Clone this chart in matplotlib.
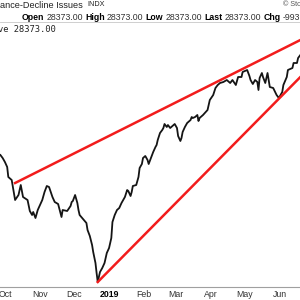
import numpy as np
import pandas as pd
import matplotlib
matplotlib.use("Agg")
import matplotlib.pyplot as plt

plt.rcParams['font.family'] = ['Liberation Sans', 'DejaVu Sans']

# NYSE advance-decline line (cumulative)
dates = ["2018-09-27", "2018-09-29", "2018-10-01", "2018-10-03", "2018-10-04", "2018-10-07",
         "2018-10-10", "2018-10-13", "2018-10-15", "2018-10-17", "2018-10-21", "2018-10-23",
         "2018-10-25", "2018-10-26", "2018-10-28", "2018-10-30", "2018-11-03", "2018-11-05",
         "2018-11-07", "2018-11-09", "2018-11-12", "2018-11-14", "2018-11-17", "2018-11-20",
         "2018-11-21", "2018-11-25", "2018-11-28", "2018-11-29", "2018-11-30", "2018-12-02",
         "2018-12-04", "2018-12-05", "2018-12-06", "2018-12-09", "2018-12-12", "2018-12-13",
         "2018-12-15", "2018-12-17", "2018-12-18", "2018-12-20", "2018-12-21", "2018-12-22",
         "2018-12-24", "2018-12-26", "2018-12-28", "2018-12-30", "2019-01-01", "2019-01-03",
         "2019-01-04", "2019-01-06", "2019-01-08", "2019-01-10", "2019-01-12", "2019-01-15",
         "2019-01-17", "2019-01-18", "2019-01-20", "2019-01-21", "2019-01-22", "2019-01-25",
         "2019-01-27", "2019-01-28", "2019-01-30", "2019-01-31", "2019-02-02", "2019-02-04",
         "2019-02-05", "2019-02-07", "2019-02-09", "2019-02-11", "2019-02-12", "2019-02-13",
         "2019-02-15", "2019-02-17", "2019-02-18", "2019-02-19", "2019-02-21", "2019-02-22",
         "2019-02-24", "2019-02-26", "2019-02-27", "2019-02-28", "2019-03-02", "2019-03-03",
         "2019-03-05", "2019-03-06", "2019-03-07", "2019-03-09", "2019-03-11", "2019-03-14",
         "2019-03-15", "2019-03-16", "2019-03-18", "2019-03-20", "2019-03-21", "2019-03-22",
         "2019-03-25", "2019-03-29", "2019-03-31", "2019-04-03", "2019-04-05", "2019-04-07",
         "2019-04-09", "2019-04-12", "2019-04-15", "2019-04-18", "2019-04-20", "2019-04-23",
         "2019-04-25", "2019-04-28", "2019-04-29", "2019-05-03", "2019-05-05", "2019-05-06",
         "2019-05-08", "2019-05-10", "2019-05-12", "2019-05-13", "2019-05-14", "2019-05-16",
         "2019-05-17", "2019-05-19", "2019-05-21", "2019-05-22", "2019-05-23", "2019-05-26",
         "2019-05-29", "2019-05-31", "2019-06-03", "2019-06-04", "2019-06-07", "2019-06-08",
         "2019-06-12", "2019-06-13", "2019-06-16", "2019-06-17", "2019-06-19"]
ad_line = [18373, 18073, 17673, 17173, 16173, 15873,
           13873, 14373, 15373, 14173, 13873, 12773,
           12373, 12673, 12073, 12873, 13873, 14673,
           15273, 15173, 14173, 13673, 13473, 12173,
           12873, 12773, 13273, 13673, 13773, 14373,
           13573, 12873, 12373, 11973, 11573, 10873,
           10273, 9373, 8673, 7573, 6573, 5673,
           6673, 7073, 7573, 8573, 9073, 10073,
           11673, 12373, 12873, 13073, 13573, 14173,
           14873, 14773, 14273, 14673, 15273, 15373,
           16173, 17073, 17473, 18073, 18273, 17873,
           17473, 18073, 18673, 19173, 19373, 19873,
           20573, 20873, 21073, 21473, 21173, 21373,
           21073, 21273, 21373, 21473, 21073, 20273,
           19773, 20073, 20673, 21173, 21573, 21873,
           22173, 22073, 22173, 22373, 21773, 22073,
           22373, 22873, 23873, 24373, 25073, 25373,
           25573, 25673, 25873, 25573, 25873, 25373,
           26173, 26173, 26673, 26873, 26273, 25873,
           25473, 25873, 25673, 24873, 26073, 26573,
           26173, 25573, 26573, 25873, 25173, 25073,
           24373, 24073, 24673, 25373, 26173, 26873,
           27073, 27573, 27573, 28073, 28373]

# trend lines (start / end)
upper_dates = ["2018-10-10", "2019-06-28"]
upper_vals = [15573, 30384]
lower_dates = ["2018-12-22", "2019-06-28"]
lower_vals = [5673, 27204]

month_ticks = ["2018-10-01", "2018-11-01", "2018-12-01", "2019-01-01", "2019-02-01",
               "2019-03-01", "2019-04-01", "2019-05-01", "2019-06-01"]
month_labels = ["Oct", "Nov", "Dec", "2019", "Feb", "Mar", "Apr", "May", "Jun"]

quote_labels = ["Open", "High", "Low", "Last", "Chg"]
quote_values = ["28373.00", "28373.00", "28373.00", "28373.00", "-993"]

fig = plt.figure(figsize=(3, 3), dpi=100)
ax = fig.add_axes([0, 13 / 300, 1, 265 / 300])

x = pd.to_datetime(dates)
ax.plot(x, ad_line, color='#151515', lw=1.3, zorder=2)
ax.plot(pd.to_datetime(upper_dates), upper_vals, color='#f21c1c', lw=1.8, zorder=3)
ax.plot(pd.to_datetime(lower_dates), lower_vals, color='#f21c1c', lw=1.8, zorder=3)

t0 = pd.Timestamp("2018-10-01")
ax.set_xlim(t0 + pd.Timedelta(days=-4.34), t0 + pd.Timedelta(days=260.68))
ax.set_ylim(5173, 31673)

ax.set_xticks(pd.to_datetime(month_ticks))
ax.set_xticklabels(month_labels, fontsize=6.3, color='#333333')
ax.get_xticklabels()[3].set_fontweight('bold')
ax.get_xticklabels()[3].set_color('black')
ax.tick_params(axis='x', length=0, pad=2.2)
ax.set_yticks([])
for s in ['left', 'right']:
    ax.spines[s].set_visible(False)
ax.spines['bottom'].set_color('#a0a0a0')
ax.spines['bottom'].set_linewidth(0.8)
ax.spines['top'].set_color('#c8c8c8')
ax.spines['top'].set_linewidth(0.6)

# header text
fig.text(0, 1 - 5 / 300, "ance-Decline Issues", fontsize=6.6, va='center', ha='left', color='#222222')
fig.text(87 / 300, 1 - 5 / 300, "INDX", fontsize=5.2, va='center', ha='left', color='#222222')
fig.text(283 / 300, 1 - 5 / 300, "© StockCharts.com", fontsize=5.2, va='center', ha='left', color='#555555')

qx = [22, 85.3, 145.8, 204.3, 263.3]
vx = [46.6, 107.0, 165.6, 224.6, 282.6]
for lab, val, a, b in zip(quote_labels, quote_values, qx, vx):
    fig.text(a / 300, 1 - 17 / 300, lab, fontsize=6.3, fontweight='bold', va='center', ha='left')
    fig.text(b / 300, 1 - 17 / 300, val, fontsize=6.3, va='center', ha='left', color='#333333')

fig.text(56 / 300, 1 - 29 / 300, "ve 28373.00", fontsize=6.3, family='DejaVu Sans Mono',
         va='center', ha='right', color='#222222')

fig.savefig("out.png", dpi=100)
